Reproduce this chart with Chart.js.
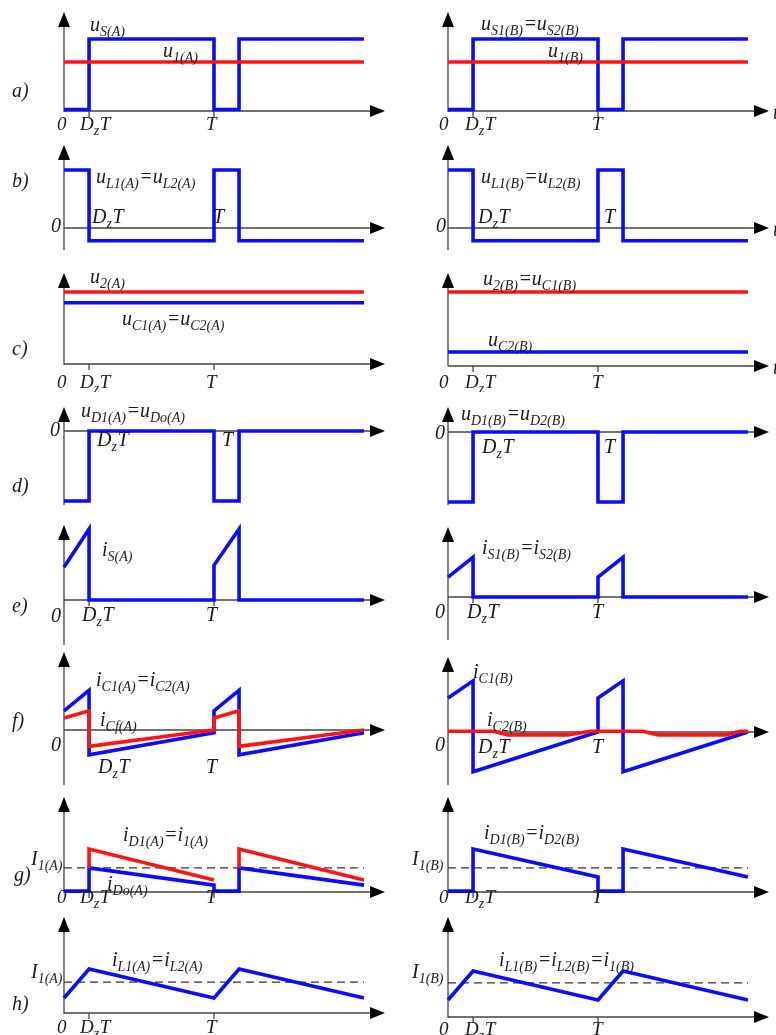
<!DOCTYPE html>
<html>
<head>
<meta charset="utf-8">
<script src="https://cdn.jsdelivr.net/npm/chart.js@4"></script>
<style>
  body { margin: 0; background: #fff; }
  #wrap { position: relative; width: 776px; height: 1035px; overflow: hidden; }
  #wrap canvas { position: absolute; }
</style>
</head>
<body>
<div id="wrap"></div>
<script>
const tStep = [0, 0.167, 0.167, 1, 1, 1.167, 1.167, 2];
const tFlat = [0, 2];
const tTri = [0, 0.167, 1, 1.167, 2];
const tPulse = [0.167, 0.167, 1, 1.08, 1.167, 1.167, 2];
const tWobble = [0, 0.3, 0.4, 0.8, 0.95, 1.3, 1.4, 1.85, 1.95, 2];
const tickPos = [0, 0.167, 1];
const tickLabels = ['0', 'D_{z}T', 'T'];

// a) switch voltage / input voltage
const uS_A = [0.02, 0.02, 1, 1, 0.02, 0.02, 1, 1];
const u1_A = [0.68, 0.68];
const uS_B = [0.02, 0.02, 1, 1, 0.02, 0.02, 1, 1];
const u1_B = [0.68, 0.68];
// b) inductor voltage
const uL_A = [1, 1, -0.22, -0.22, 1, 1, -0.22, -0.22];
const uL_B = [1, 1, -0.22, -0.22, 1, 1, -0.22, -0.22];
// c) output / capacitor voltage
const u2_A = [1, 1];
const uC_A = [0.85, 0.85];
const u2_B = [1, 1];
const uC2_B = [0.19, 0.19];
// d) diode voltage
const uD_A = [-1, -1, 0, 0, -1, -1, 0, 0];
const uD_B = [-1, -1, 0, 0, -1, -1, 0, 0];
// e) switch current
const iS_A = [0.46, 1, 0, 0, 0.49, 1, 0, 0];
const iS_B = [0.28, 0.56, 0, 0, 0.28, 0.56, 0, 0];
// f) capacitor currents
const iC_A = [0.27, 0.56, -0.35, -0.04, 0.27, 0.56, -0.35, -0.04];
const iCf_A = [0.17, 0.27, -0.23, 0, 0.17, 0.27, -0.23, 0];
const iC1_B = [0.48, 0.72, -0.56, 0, 0.48, 0.72, -0.56, 0];
const iC2_B = [0.01, 0.01, -0.04, -0.04, 0.01, 0.01, -0.04, -0.04, 0.01, 0.01];
// g) diode currents
const iD1_A = [0.56, 1, 0.28, null, 0.56, 1, 0.28];
const iDo_A = [0.02, 0.02, 0.56, 0.16, 0.02, 0.02, 0.56, 0.16];
const iD_B = [0.02, 0.02, 1, 0.35, 0.02, 0.02, 1, 0.35];
const I1g_A = [0.56, 0.56];
const I1g_B = [0.56, 0.56];
// h) inductor currents
const iL_A = [0.34, 1, 0.34, 1, 0.34];
const iL_B = [0.37, 1, 0.37, 1, 0.37];
const I1h_A = [0.7, 0.7];
const I1h_B = [0.74, 0.74];

const BLUE = '#0b0bff';
const RED = '#ff1414';
const INK = '#1c1c1c';
const FONT = '"Liberation Serif", "DejaVu Serif", serif';

function line(xs, ys, color) {
  return {
    data: xs.map((x, i) => ({ x: x, y: ys[i] })),
    borderColor: color,
    borderWidth: 3.6,
    clip: false,
    spanGaps: false
  };
}
function dashed(xs, ys) {
  const d = line(xs, ys, '#333');
  d.borderWidth = 1.2;
  d.borderDash = [8, 5];
  return d;
}

// text with _{...} subscripts
function richText(ctx, s, x, y, size) {
  const parts = s.split(/(_\{[^}]*\})/);
  let cx = x;
  parts.forEach(p => {
    if (!p) return;
    const sub = p.startsWith('_{');
    const txt = sub ? p.slice(2, -1) : p;
    const fs = sub ? Math.round(size * 0.72) : size;
    ctx.font = 'italic ' + fs + 'px ' + FONT;
    ctx.fillText(txt, cx, sub ? y + size * 0.27 : y);
    cx += ctx.measureText(txt).width + (sub ? 0.5 : 0);
  });
}

const cols = [
  { left: 0, padL: 64, padR: 24, tickOff: [-7, -9, -8] },
  { left: 388, padL: 60, padR: 28, tickOff: [-9, -8, -6] }
];

const panels = [
  { col: 0, top: 0, h: 135, y0: 111, k: 72, yTop: 12, yBot: 112, ticks: 130,
    series: [line(tFlat, u1_A, RED), line(tStep, uS_A, BLUE)],
    text: [['u_{S(A)}', 90, 31], ['u_{1(A)}', 163, 57], ['a)', 12, 97], ['t', 388, 119]] },
  { col: 1, top: 0, h: 135, y0: 111, k: 72, yTop: 12, yBot: 112, ticks: 130,
    series: [line(tFlat, u1_B, RED), line(tStep, uS_B, BLUE)],
    text: [['u_{S1(B)}=u_{S2(B)}', 481, 30], ['u_{1(B)}', 548, 57], ['t', 773, 119]] },

  { col: 0, top: 135, h: 120, y0: 228, k: 58, yTop: 145, yBot: 250,
    series: [line(tStep, uL_A, BLUE)],
    text: [['u_{L1(A)}=u_{L2(A)}', 96, 183], ['D_{z}T', 92, 223], ['T', 213, 223], ['0', 51, 232], ['b)', 12, 187], ['t', 388, 236]] },
  { col: 1, top: 135, h: 120, y0: 228, k: 58, yTop: 145, yBot: 250,
    series: [line(tStep, uL_B, BLUE)],
    text: [['u_{L1(B)}=u_{L2(B)}', 481, 183], ['D_{z}T', 478, 223], ['T', 604, 223], ['0', 436, 232], ['t', 773, 236]] },

  { col: 0, top: 255, h: 137, y0: 364, k: 72, yTop: 273, yBot: 365, ticks: 388,
    series: [line(tFlat, u2_A, RED), line(tFlat, uC_A, BLUE)],
    text: [['u_{2(A)}', 90, 283], ['u_{C1(A)}=u_{C2(A)}', 122, 325], ['c)', 12, 355], ['t', 388, 372]] },
  { col: 1, top: 255, h: 137, y0: 366, k: 74, yTop: 273, yBot: 366, ticks: 388,
    series: [line(tFlat, u2_B, RED), line(tFlat, uC2_B, BLUE)],
    text: [['u_{2(B)}=u_{C1(B)}', 483, 285], ['u_{C2(B)}', 488, 346], ['t', 773, 374]] },

  { col: 0, top: 392, h: 120, y0: 431, k: 70, yTop: 407, yBot: 505,
    series: [line(tStep, uD_A, BLUE)],
    text: [['u_{D1(A)}=u_{Do(A)}', 81, 417], ['0', 50, 436], ['D_{z}T', 97, 446], ['T', 222, 446], ['d)', 12, 492], ['t', 392, 437]] },
  { col: 1, top: 392, h: 120, y0: 432, k: 70, yTop: 407, yBot: 505,
    series: [line(tStep, uD_B, BLUE)],
    text: [['u_{D1(B)}=u_{D2(B)}', 461, 420], ['0', 435, 439], ['D_{z}T', 482, 453], ['T', 604, 453]] },

  { col: 0, top: 512, h: 136, y0: 600, k: 71, yTop: 525, yBot: 645, marks: true,
    series: [line(tStep, iS_A, BLUE)],
    text: [['i_{S(A)}', 102, 556], ['0', 51, 622], ['D_{z}T', 82, 621], ['T', 206, 621], ['e)', 12, 612], ['t', 388, 603]] },
  { col: 1, top: 512, h: 136, y0: 597, k: 71, yTop: 527, yBot: 640, marks: true,
    series: [line(tStep, iS_B, BLUE)],
    text: [['i_{S1(B)}=i_{S2(B)}', 482, 554], ['0', 435, 618], ['D_{z}T', 467, 618], ['T', 592, 618]] },

  { col: 0, top: 648, h: 137, y0: 730, k: 71, yTop: 652, yBot: 785,
    series: [line(tStep, iCf_A, RED), line(tStep, iC_A, BLUE)],
    text: [['i_{C1(A)}=i_{C2(A)}', 96, 686], ['i_{Cf(A)}', 100, 726], ['0', 51, 751], ['D_{z}T', 98, 773], ['T', 206, 773], ['f)', 12, 727], ['t', 390, 733]] },
  { col: 1, top: 648, h: 137, y0: 732, k: 71, yTop: 657, yBot: 785,
    series: [line(tWobble, iC2_B, RED), line(tStep, iC1_B, BLUE)],
    text: [['i_{C1(B)}', 473, 678], ['i_{C2(B)}', 487, 726], ['0', 435, 751], ['D_{z}T', 478, 753], ['T', 592, 753]] },

  { col: 0, top: 785, h: 125, y0: 892, k: 43, yTop: 797, yBot: 893, ticks: 903,
    series: [line(tPulse, iD1_A, RED), line(tStep, iDo_A, BLUE), dashed(tFlat, I1g_A)],
    text: [['i_{D1(A)}=i_{1(A)}', 123, 841], ['i_{Do(A)}', 107, 890], ['I_{1(A)}', 31, 865], ['g)', 14, 881], ['t', 388, 895]] },
  { col: 1, top: 785, h: 125, y0: 892, k: 43, yTop: 797, yBot: 893, ticks: 903,
    series: [line(tStep, iD_B, BLUE), dashed(tFlat, I1g_B)],
    text: [['i_{D1(B)}=i_{D2(B)}', 484, 839], ['I_{1(B)}', 412, 865]] },

  { col: 0, top: 910, h: 125, y0: 1013, k: 44, yTop: 917, yBot: 1014, ticks: 1033,
    series: [line(tTri, iL_A, BLUE), dashed(tFlat, I1h_A)],
    text: [['i_{L1(A)}=i_{L2(A)}', 112, 966], ['I_{1(A)}', 31, 978], ['h)', 12, 1010], ['t', 390, 1017]] },
  { col: 1, top: 910, h: 125, y0: 1017, k: 46, yTop: 917, yBot: 1018, ticks: 1035,
    series: [line(tTri, iL_B, BLUE), dashed(tFlat, I1h_B)],
    text: [['i_{L1(B)}=i_{L2(B)}=i_{1(B)}', 499, 966], ['I_{1(B)}', 412, 978]] }
];

function wavePlugin(p) {
  const c = cols[p.col];
  return {
    id: 'wave',
    beforeDatasetsDraw(chart) {
      const ctx = chart.ctx;
      const xs = chart.scales.x, ys = chart.scales.y;
      const ax = xs.getPixelForValue(0);
      const ay = ys.getPixelForValue(0);
      const xEnd = xs.getPixelForValue(2.14);
      const top = p.yTop - p.top, bot = p.yBot - p.top;
      ctx.save();
      ctx.strokeStyle = '#444';
      ctx.fillStyle = '#000';
      ctx.lineWidth = 1.3;
      ctx.beginPath();
      ctx.moveTo(ax, bot); ctx.lineTo(ax, top + 12);
      ctx.moveTo(ax, ay); ctx.lineTo(xEnd - 12, ay);
      if (p.ticks || p.marks) {
        [0.167, 1].forEach(v => {
          const px = xs.getPixelForValue(v);
          ctx.moveTo(px, ay); ctx.lineTo(px, ay + 6);
        });
      }
      ctx.stroke();
      ctx.beginPath();
      ctx.moveTo(ax, top); ctx.lineTo(ax - 6, top + 15); ctx.lineTo(ax + 6, top + 15);
      ctx.closePath();
      ctx.moveTo(xEnd, ay); ctx.lineTo(xEnd - 15, ay - 6); ctx.lineTo(xEnd - 15, ay + 6);
      ctx.closePath();
      ctx.fill();
      ctx.restore();
    },
    afterDatasetsDraw(chart) {
      const ctx = chart.ctx;
      const xs = chart.scales.x;
      ctx.save();
      ctx.fillStyle = INK;
      ctx.textBaseline = 'alphabetic';
      ctx.textAlign = 'left';
      if (p.ticks) {
        tickPos.forEach((v, i) => {
          richText(ctx, tickLabels[i], xs.getPixelForValue(v) + c.tickOff[i], p.ticks - p.top, 19);
        });
      }
      p.text.forEach(([s, x, y]) => {
        richText(ctx, s, x - c.left, y - p.top, 20);
      });
      ctx.restore();
    }
  };
}

const wrap = document.getElementById('wrap');
panels.forEach(p => {
  const c = cols[p.col];
  const cv = document.createElement('canvas');
  cv.width = 388;
  cv.height = p.h;
  cv.style.left = c.left + 'px';
  cv.style.top = p.top + 'px';
  wrap.appendChild(cv);
  new Chart(cv.getContext('2d'), {
    type: 'line',
    data: { datasets: p.series },
    options: {
      responsive: false,
      animation: false,
      devicePixelRatio: 1,
      layout: { padding: { left: c.padL, right: c.padR, top: 0, bottom: 0 } },
      scales: {
        x: { type: 'linear', min: 0, max: 2, display: false },
        y: { min: (p.y0 - p.top - p.h) / p.k, max: (p.y0 - p.top) / p.k, display: false }
      },
      elements: {
        point: { radius: 0 },
        line: { tension: 0, borderJoinStyle: 'miter', borderCapStyle: 'butt' }
      },
      plugins: { legend: { display: false }, tooltip: { enabled: false } }
    },
    plugins: [wavePlugin(p)]
  });
});
</script>
</body>
</html>
